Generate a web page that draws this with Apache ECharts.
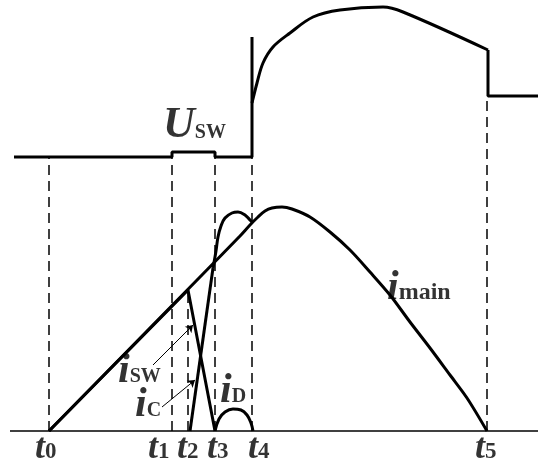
<!DOCTYPE html>
<html><head><meta charset="utf-8">
<script src="https://cdn.jsdelivr.net/npm/echarts@6/dist/echarts.min.js"></script>
<style>html,body{margin:0;padding:0;background:#fff}#c{width:550px;height:472px}</style>
</head><body><div id="c"></div>
<script>
// time instants t0..t5 (x units) and dashed guide heights
const timeMarks = [49, 172, 188, 215, 252, 487];
const timeNames = ['0', '1', '2', '3', '4', '5'];
const dashTop = [274, 279, 141, 279, 274, 335];
const baseLine = [[10, 0], [538, 0]];
// switch voltage U_sw
const uswStep = [[14, 274], [172, 274], [172, 279], [215, 279], [215, 274], [252, 274], [252, 394]];
const uswCurve = [[252, 328], [257, 348], [263, 368], [273, 384], [290, 398], [313, 414], [340, 421], [383, 424], [403, 419], [488, 381]];
const uswTail = [[488, 381], [488, 335], [538, 335]];
// currents
const iMain = [[49, 0], [100, 52], [150, 103], [200, 154], [240, 195], [250, 206], [258, 214], [265, 220], [272, 223], [282, 224], [292, 222], [310, 214], [330, 199], [350, 181], [370, 159], [390, 136], [410, 109], [430, 83], [450, 56], [467, 33], [487, 0]];
const iSw = [[49, 0], [188, 141], [215, 0]];
const iCRise = [[190, 0], [213, 163]];
const iCCurve = [[213, 163], [216, 180], [218, 194], [221, 205], [225, 213], [232, 218], [238, 219], [245, 216], [250, 211], [253, 208]];
const iD = [[215, 0], [219, 12], [225, 19], [233, 22], [241, 21], [247, 16], [251, 8], [253, 0]];
// annotation arrows [from, to]
const arrows = [[[153, 66], [193, 106]], [[162, 24], [195, 51]]];
// text anchors [x, y, main, sub]
const tLabelX = [35, 148, 177, 207, 248, 475];
const tLabelY = -36;
const curveLabels = [
  [163, 283, 'U', 'SW'],
  [387, 122, 'i', 'main'],
  [118, 39, 'i', 'SW'],
  [135, 5, 'i', 'C'],
  [220, 19, 'i', 'D']
];

const serif = '"Liberation Serif","Times New Roman",serif';
const lineBase = { type: 'line', symbol: 'none', silent: true, animation: false };
const blk = (w) => ({ color: '#000', width: w });

const series = [];
series.push(Object.assign({}, lineBase, { data: baseLine, lineStyle: blk(1.5) }));
timeMarks.forEach((x, k) => {
  series.push(Object.assign({}, lineBase, { data: [[x, 0], [x, dashTop[k]]], lineStyle: { color: '#000', width: 1.5, type: [10, 6] } }));
});
series.push(Object.assign({}, lineBase, { data: uswStep, lineStyle: blk(3) }));
series.push(Object.assign({}, lineBase, { data: uswCurve, smooth: 0.35, lineStyle: blk(3) }));
series.push(Object.assign({}, lineBase, { data: uswTail, lineStyle: blk(3) }));
series.push(Object.assign({}, lineBase, { data: iMain, smooth: 0.3, lineStyle: blk(3) }));
series.push(Object.assign({}, lineBase, { data: iSw, lineStyle: blk(3) }));
series.push(Object.assign({}, lineBase, { data: iCRise, lineStyle: blk(3) }));
series.push(Object.assign({}, lineBase, { data: iCCurve, smooth: 0.4, lineStyle: blk(3) }));
series.push(Object.assign({}, lineBase, { data: iD, smooth: 0.4, lineStyle: blk(3) }));
series.push({
  type: 'lines', coordinateSystem: 'cartesian2d', silent: true, animation: false,
  symbol: ['none', 'arrow'], symbolSize: 7,
  lineStyle: { color: '#000', width: 1, opacity: 1 },
  data: arrows.map(a => ({ coords: a }))
});

const rich = {
  t: { fontFamily: serif, fontWeight: 'bold', fontStyle: 'italic', fontSize: 36, color: '#000', verticalAlign: 'bottom', lineHeight: 38 },
  d: { fontFamily: serif, fontWeight: 'bold', fontSize: 23, color: '#000', verticalAlign: 'bottom', lineHeight: 38, padding: [0, 0, 3, 0] },
  U: { fontFamily: serif, fontWeight: 'bold', fontStyle: 'italic', fontSize: 44, color: '#000', verticalAlign: 'bottom', lineHeight: 46 },
  i: { fontFamily: serif, fontWeight: 'bold', fontStyle: 'italic', fontSize: 42, color: '#000', verticalAlign: 'bottom', lineHeight: 46 },
  s: { fontFamily: serif, fontWeight: 'bold', fontSize: 20, color: '#000', verticalAlign: 'bottom', lineHeight: 46, padding: [0, 0, 5, 0] },
  m: { fontFamily: serif, fontWeight: 'bold', fontSize: 24, color: '#000', verticalAlign: 'bottom', lineHeight: 46, padding: [0, 0, 4, 0] }
};

const labelData = [];
tLabelX.forEach((x, k) => labelData.push({ value: [x, tLabelY], label: { formatter: '{t|t}{d|' + timeNames[k] + '}' } }));
curveLabels.forEach(c => {
  const big = c[2] === 'U' ? 'U' : 'i';
  const sub = c[3] === 'main' ? 'm' : 's';
  labelData.push({ value: [c[0], c[1]], label: { formatter: '{' + big + '|' + c[2] + '}{' + sub + '|' + c[3] + '}' } });
});
series.push({
  type: 'scatter', symbolSize: 0, silent: true, animation: false,
  data: labelData,
  label: { show: true, position: 'inside', align: 'left', verticalAlign: 'bottom', rich: rich, offset: [0, 0] }
});

const chart = echarts.init(document.getElementById('c'), null, { renderer: 'canvas' });
chart.setOption({
  backgroundColor: '#fff',
  animation: false,
  grid: { left: 0, right: 0, top: 0, bottom: 0 },
  xAxis: { type: 'value', min: 0, max: 550, show: false },
  yAxis: { type: 'value', min: -41, max: 431, show: false },
  series: series
});
</script></body></html>
